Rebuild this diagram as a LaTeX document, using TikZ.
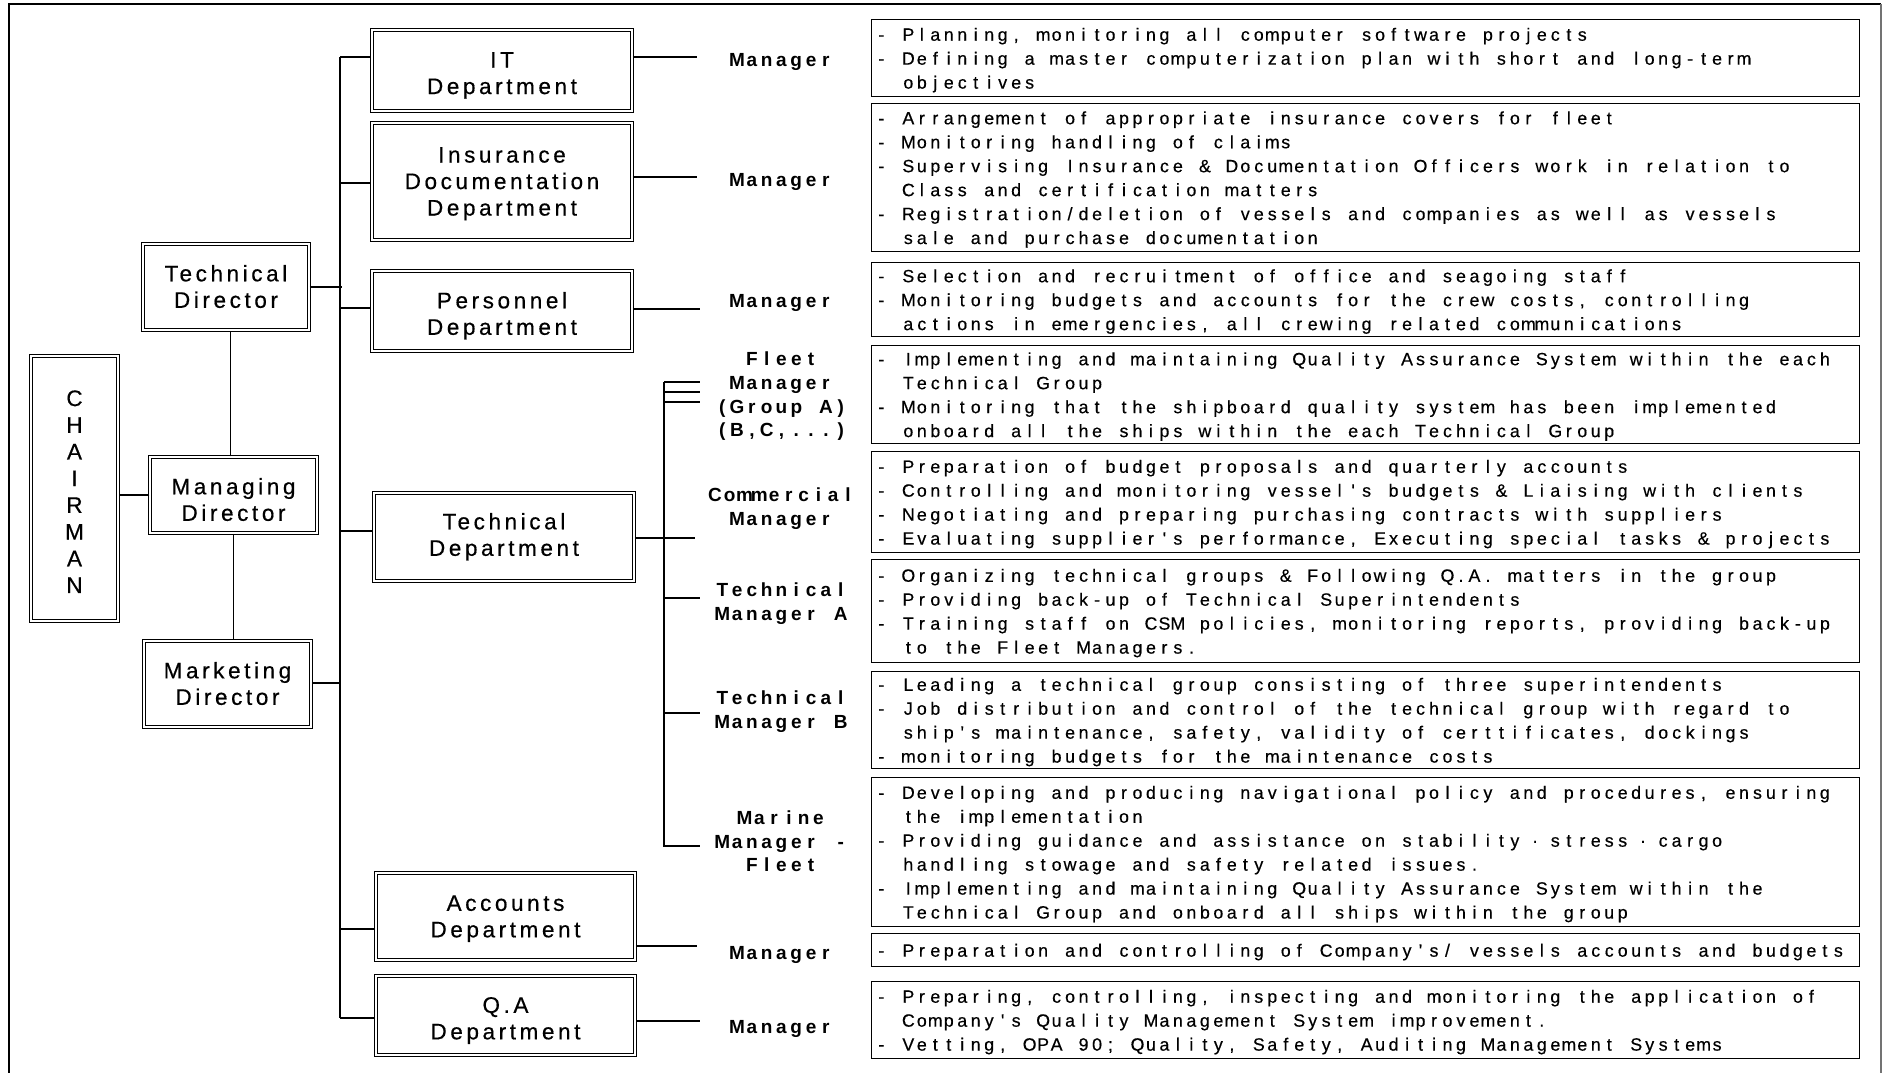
\documentclass[tikz,border=0pt]{standalone}
\usepackage{fontspec}
\newfontfamily\cellfont{Liberation Sans}
\newfontfamily\descfont[FakeBold=0.45]{Liberation Sans}
\newfontfamily\deptfont[LetterSpace=16,FakeBold=0.5]{Liberation Sans}
\usetikzlibrary{calc}

% fixed-pitch text: every character sits centred in a cell of equal width
\ExplSyntaxOn
\dim_new:N \l__org_cell_dim
\NewDocumentCommand \cells { O{13.48pt} m }
  {
    \dim_set:Nn \l__org_cell_dim {#1}
    \str_map_inline:nn {#2}
      {
        \str_if_eq:nnTF {##1} {·}
          { \makebox[2\l__org_cell_dim][c]{·} }
          { \makebox[\l__org_cell_dim][c]{##1} }
      }
  }
\ExplSyntaxOff

\newcommand\lstrut{\rule[-5.45pt]{0pt}{23.95pt}}
\newcommand\dl[1]{\lstrut\cells{#1}}
\newcommand\dc[1]{\lstrut\hspace*{26.96pt}\cells{#1}}
\newcommand\lbl[1]{\lstrut\cells[14.8pt]{#1}}
\newcommand\dst[1]{\rule[-5.7pt]{0pt}{\dimexpr26.5pt+#1\relax}}

\begin{document}
\begin{tikzpicture}[x=1pt,y=-1pt,
  conn/.style={line width=1.2pt},
  dbox/.style={draw, double, double distance=2.3pt, line width=0.9pt, inner sep=0pt,
    align=center, font={\deptfont\fontsize{22.5pt}{26.5pt}\selectfont}},
  desc/.style={draw, line width=1.3pt, anchor=north west, inner xsep=3pt, inner ysep=0pt,
    text width=982pt, align=left,
    font={\descfont\fontsize{17.8pt}{23.95pt}\selectfont\parindent=0pt}},
  lab/.style={inner sep=0pt, align=center,
    font={\cellfont\bfseries\fontsize{19pt}{23.95pt}\selectfont}}]
\useasboundingbox (0,0) rectangle (1885,1073);

% page frame, open at the bottom
\draw[line width=2.2pt] (9,1073) -- (9,4) -- (1881,4);
\draw[line width=1.4pt, black!55] (1881,4) -- (1881,1073);

% chairman and directors
\node[dbox, minimum width=87.6pt, minimum height=265.6pt,
  font={\deptfont\fontsize{22.5pt}{26.7pt}\selectfont}] (chair) at (74.5,488.5)
  {\rule{0pt}{22pt}C\\H\\A\\I\\R\\M\\A\\N};
\node[dbox, minimum width=166.6pt, minimum height=86.6pt] (tdir) at (226,287)
  {\dst{0pt}Technical\\\dst{0pt}Director};
\node[dbox, minimum width=167.6pt, minimum height=76.6pt] (mdir) at (233.5,495)
  {\dst{10pt}Managing\\\dst{0pt}Director};
\node[dbox, minimum width=167.6pt, minimum height=86.6pt] (kdir) at (227.5,684)
  {\dst{0pt}Marketing\\\dst{0pt}Director};

% departments
\node[dbox, minimum width=260.6pt, minimum height=81.6pt] (it) at (502,70.5)
  {\dst{5.5pt}IT\\\dst{0pt}Department};
\node[dbox, minimum width=260.6pt, minimum height=117.6pt] (ins) at (502,181.5)
  {\dst{0pt}Insurance\\\dst{0pt}Documentation\\\dst{0pt}Department};
\node[dbox, minimum width=260.6pt, minimum height=80.6pt] (per) at (502,311)
  {\dst{6pt}Personnel\\\dst{0pt}Department};
\node[dbox, minimum width=260.6pt, minimum height=88.6pt] (tdp) at (504,537)
  {\dst{-4pt}Technical\\\dst{0pt}Department};
\node[dbox, minimum width=259.6pt, minimum height=87.6pt] (acc) at (505.5,916.5)
  {\dst{0pt}Accounts\\\dst{0pt}Department};
\node[dbox, minimum width=259.6pt, minimum height=79.6pt] (qa) at (505.5,1015.5)
  {\dst{6pt}Q.A\\\dst{0pt}Department};

% managers
\node[lab] (mit)  at (781.5,60)    {\lbl{Manager}};
\node[lab] (mins) at (781.5,180)   {\lbl{Manager}};
\node[lab] (mper) at (781.5,301)   {\lbl{Manager}};
\node[lab] (mfl)  at (781.5,394.5) {\lbl{Fleet}\\\lbl{Manager}\\\lbl{(Group A)}\\\lbl{(B,C,...)}};
\node[lab] (mcom) at (781.5,507)   {\lbl{Commercial}\\\lbl{Manager}};
\node[lab] (mta)  at (781.5,602)   {\lbl{Technical}\\\lbl{Manager A}};
\node[lab] (mtb)  at (781.5,710)   {\lbl{Technical}\\\lbl{Manager B}};
\node[lab] (mmar) at (781.5,841.5) {\lbl{Marine}\\\lbl{Manager -}\\\lbl{Fleet}};
\node[lab] (macc) at (781.5,953)   {\lbl{Manager}};
\node[lab] (mqa)  at (781.5,1026.5){\lbl{Manager}};

% duties
\node[desc, minimum height=77pt] (d1) at (871,19) {%
\dl{- Planning, monitoring all computer software projects}\\
\dl{- Defining a master computerization plan with short and long-term}\\
\dc{objectives}};
\node[desc, minimum height=148pt] (d2) at (871,103) {%
\dl{- Arrangement of appropriate insurance covers for fleet}\\
\dl{- Monitoring handling of claims}\\
\dl{- Supervising Insurance & Documentation Officers work in relation to}\\
\dc{Class and certification matters}\\
\dl{- Registration/deletion of vessels and companies as well as vessels}\\
\dc{sale and purchase documentation}};
\node[desc, minimum height=74pt] (d3) at (871,262) {%
\dl{- Selection and recruitment of office and seagoing staff}\\
\dl{- Monitoring budgets and accounts for the crew costs, controlling}\\
\dc{actions in emergencies, all crewing related communications}};
\node[desc, minimum height=98pt] (d4) at (871,345) {%
\dl{- Implementing and maintaining Quality Assurance System within the each}\\
\dc{Technical Group}\\
\dl{- Monitoring that the shipboard quality system has been implemented}\\
\dc{onboard all the ships within the each Technical Group}};
\node[desc, minimum height=101pt] (d5) at (871,451) {%
\dl{- Preparation of budget proposals and quarterly accounts}\\
\dl{- Controlling and monitoring vessel's budgets & Liaising with clients}\\
\dl{- Negotiating and preparing purchasing contracts with suppliers}\\
\dl{- Evaluating supplier's performance, Executing special tasks & projects}};
\node[desc, minimum height=103pt] (d6) at (871,559) {%
\dl{- Organizing technical groups & Following Q.A. matters in the group}\\
\dl{- Providing back-up of Technical Superintendents}\\
\dl{- Training staff on CSM policies, monitoring reports, providing back-up}\\
\dc{to the Fleet Managers.}};
\node[desc, minimum height=97pt] (d7) at (871,671) {%
\dl{- Leading a technical group consisting of three superintendents}\\
\dl{- Job distribution and control of the technical group with regard to}\\
\dc{ship's maintenance, safety, validity of certtificates, dockings}\\
\dl{- monitoring budgets for the maintenance costs}};
\node[desc, minimum height=149pt] (d8) at (871,777) {%
\dl{- Developing and producing navigational policy and procedures, ensuring}\\
\dc{the implementation}\\
\dl{- Providing guidance and assistance on stability·stress·cargo}\\
\dc{handling stowage and safety related issues.}\\
\dl{- Implementing and maintaining Quality Assurance System within the}\\
\dc{Technical Group and onboard all ships within the group}};
\node[desc, minimum height=33pt] (d9) at (871,933) {%
\dl{- Preparation and controlling of Company's/ vessels accounts and budgets}};
\node[desc, minimum height=77pt] (d10) at (871,981) {%
\dl{- Preparing, controlling, inspecting and monitoring the application of}\\
\dc{Company's Quality Management System improvement.}\\
\dl{- Vetting, OPA 90; Quality, Safety, Auditing Management Systems}};

% main bus from the directors to the departments
\coordinate (jit)  at (340,57);
\coordinate (jins) at (340,183);
\coordinate (jtd)  at (340,287);
\coordinate (jper) at (340,308);
\coordinate (jtdp) at (340,531);
\coordinate (jmk)  at (340,683);
\coordinate (jacc) at (340,929);
\coordinate (jqa)  at (340,1018);
\draw[conn] (jit) -- (jqa);
\draw[conn] (jit)  -- (jit -| it.west);
\draw[conn] (jins) -- (jins -| ins.west);
\draw[conn] (jper) -- (jper -| per.west);
\draw[conn] (jtdp) -- (jtdp -| tdp.west);
\draw[conn] (jacc) -- (jacc -| acc.west);
\draw[conn] (jqa)  -- (jqa -| qa.west);
\draw[conn] (tdir.east |- jtd) -- ([xshift=2pt]jtd);
\draw[conn] (kdir.east |- jmk) -- (jmk);

% director chain
\draw[conn] (mdir.west) -- (mdir.west -| chair.east);
\draw[conn] ([xshift=-3pt]mdir.north) -- ([xshift=-3pt]mdir.north |- tdir.south);
\draw[conn] (mdir.south) -- (mdir.south |- kdir.north);

% department to manager links
\coordinate (eit)  at (697,57);
\coordinate (eins) at (697,177);
\coordinate (eper) at (700,309);
\coordinate (eacc) at (697,946);
\coordinate (eqa)  at (700,1021);
\draw[conn] (it.east |- eit) -- (eit);
\draw[conn] (ins.east |- eins) -- (eins);
\draw[conn] (per.east |- eper) -- (eper);
\draw[conn] (acc.east |- eacc) -- (eacc);
\draw[conn] (qa.east |- eqa) -- (eqa);

% technical department sub-bus
\coordinate (sfa)  at (664,382);
\coordinate (sfb)  at (664,392);
\coordinate (sfc)  at (664,402);
\coordinate (std)  at (664,538);
\coordinate (sta)  at (664,598);
\coordinate (stb)  at (664,713);
\coordinate (smar) at (664,846);
\coordinate (efa)  at (700,382);
\coordinate (efb)  at (700,392);
\coordinate (efc)  at (700,402);
\coordinate (ecom) at (695,538);
\coordinate (eta)  at (700,598);
\coordinate (etb)  at (700,713);
\coordinate (emar) at (700,846);
\draw[conn] (sfa) -- (smar) -- (emar);
\draw[conn] (sfa) -- (efa);
\draw[conn] (sfb) -- (efb);
\draw[conn] (sfc) -- (efc);
\draw[conn] (tdp.east |- std) -- (ecom);
\draw[conn] (sta) -- (eta);
\draw[conn] (stb) -- (etb);
\end{tikzpicture}
\end{document}
